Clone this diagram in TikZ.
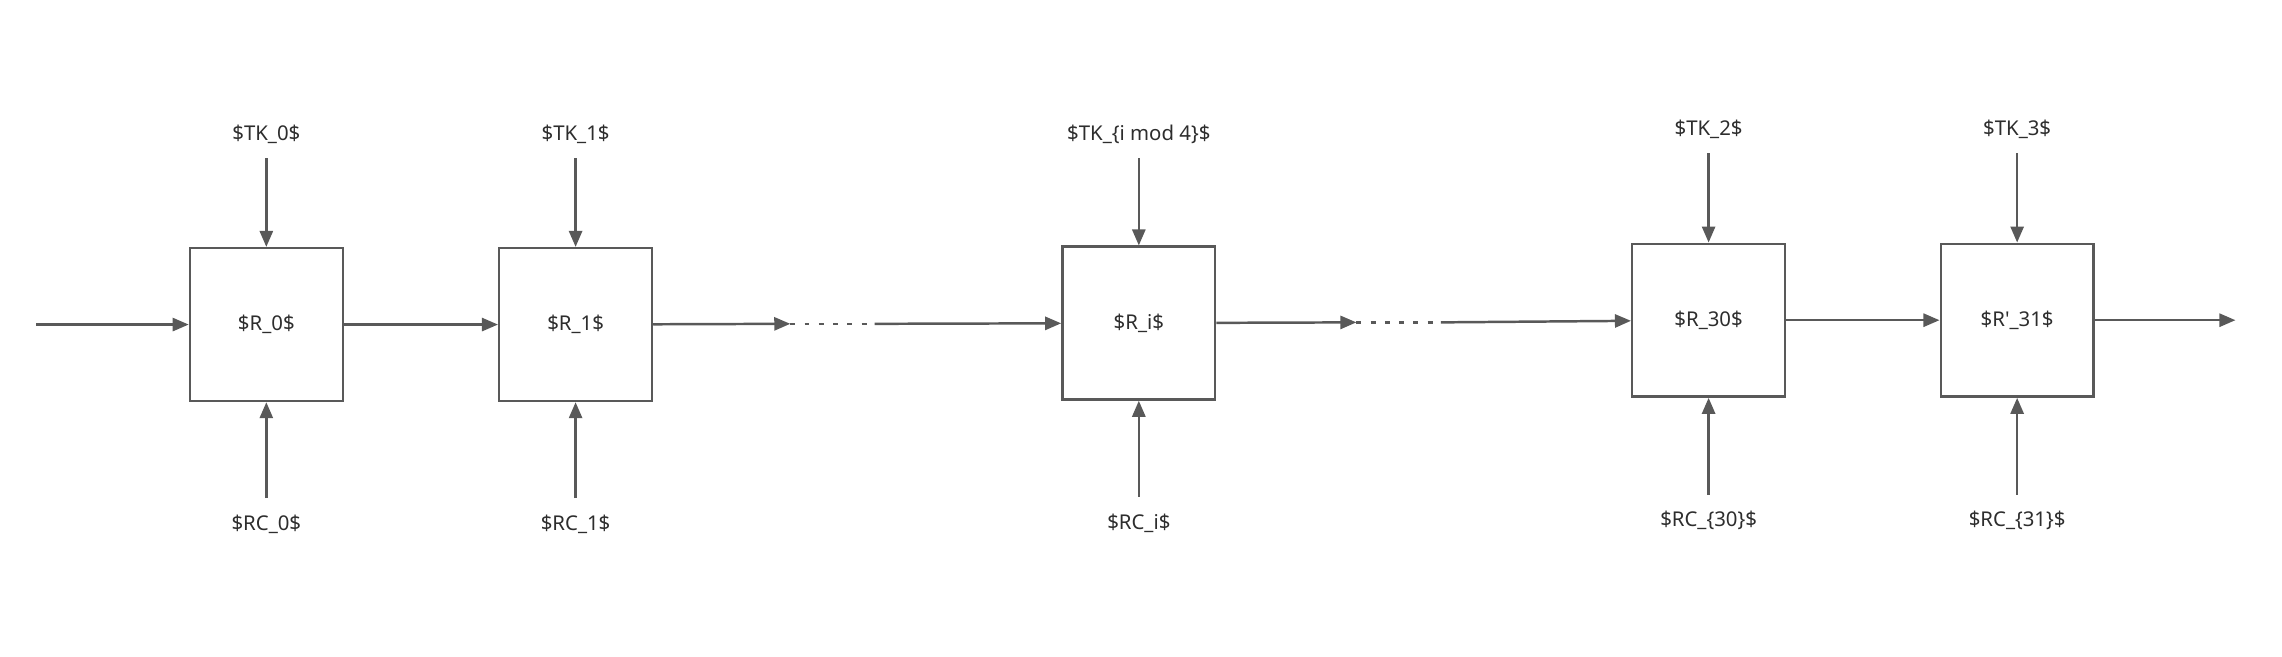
\documentclass[tikz,border=0pt]{standalone}
\usepackage{fontspec}
\setmainfont{Noto Sans}
\usetikzlibrary{arrows.meta}
\definecolor{linegray}{RGB}{89,89,89}
\definecolor{textgray}{RGB}{45,45,45}
\begin{document}
\begin{tikzpicture}[x=1pt,y=-1pt,
    every node/.style={font=\fontsize{14}{16}\selectfont,text=textgray},
    rnd/.style={draw=linegray,line width=1.7pt,minimum width=105pt,minimum height=105pt,inner sep=0pt},
    lbl/.style={inner sep=0pt,text height=22pt,text depth=12pt},
    arr/.style={draw=linegray,line width=1.7pt,-{Triangle[length=11pt,width=9pt]}},
    dots/.style={draw=linegray,line width=1.7pt,dash pattern=on 3.4pt off 6.4pt}]
    \useasboundingbox (0,0) rectangle (1568,451);
    \node[rnd] (r0) at (183,223) {\$R\_0\$};
    \node[rnd] (r1) at (395.5,223) {\$R\_1\$};
    \node[rnd] (ri) at (782.5,222) {\$R\_i\$};
    \node[rnd] (r30) at (1174,220) {\$R\_30\$};
    \node[rnd] (r31) at (1386,220) {\$R\textquotesingle\_31\$};
    \node[lbl] (tk0) at (183,91.5) {\$TK\_0\$};
    \node[lbl] (tk1) at (395.5,91.5) {\$TK\_1\$};
    \node[lbl] (tki) at (782.5,91.5) {\$TK\_\{i mod 4\}\$};
    \node[lbl] (tk2) at (1174,88) {\$TK\_2\$};
    \node[lbl] (tk3) at (1386,88) {\$TK\_3\$};
    \node[lbl] (rc0) at (183,359.5) {\$RC\_0\$};
    \node[lbl] (rc1) at (395.5,359.5) {\$RC\_1\$};
    \node[lbl] (rci) at (782.5,358.5) {\$RC\_i\$};
    \node[lbl] (rc30) at (1174,357) {\$RC\_\{30\}\$};
    \node[lbl] (rc31) at (1386,357) {\$RC\_\{31\}\$};
    \coordinate (in) at (25,223);
    \coordinate (d1) at (543,222.5);
    \coordinate (d2) at (601,222.5);
    \coordinate (d3) at (932,221.5);
    \coordinate (d4) at (990,221.5);
    \coordinate (out) at (1536,220);
    \draw[arr] (in) -- (r0);
    \draw[arr] (r0) -- (r1);
    \draw[arr] (r1) -- (d1);
    \draw[dots] (d1) -- (d2);
    \draw[arr] (d2) -- (ri);
    \draw[arr] (ri) -- (d3);
    \draw[dots] (d3) -- (d4);
    \draw[arr] (d4) -- (r30);
    \draw[arr] (r30) -- (r31);
    \draw[arr] (r31) -- (out);
    \draw[arr] (tk0) -- (r0);
    \draw[arr] (tk1) -- (r1);
    \draw[arr] (tki) -- (ri);
    \draw[arr] (tk2) -- (r30);
    \draw[arr] (tk3) -- (r31);
    \draw[arr] (rc0) -- (r0);
    \draw[arr] (rc1) -- (r1);
    \draw[arr] (rci) -- (ri);
    \draw[arr] (rc30) -- (r30);
    \draw[arr] (rc31) -- (r31);
\end{tikzpicture}
\end{document}
